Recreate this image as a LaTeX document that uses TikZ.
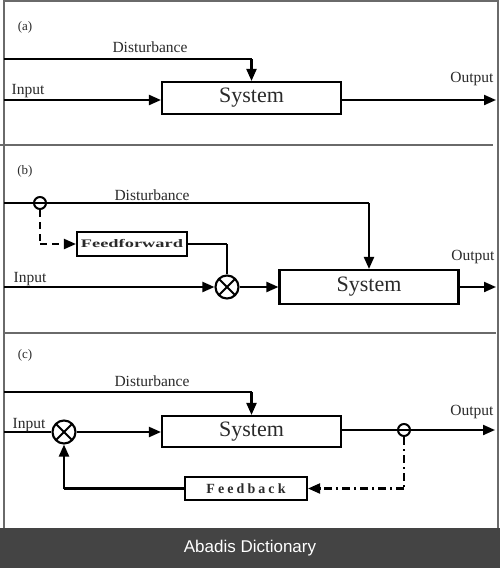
\documentclass[tikz,border=0pt]{standalone}
\usepackage{fontspec}
\setmainfont{Liberation Serif}
\newfontfamily\barfont{Liberation Sans}
\newfontfamily\fbfont[LetterSpace=22]{Liberation Serif}
\usepackage{graphicx}
\usetikzlibrary{arrows.meta,calc}
\definecolor{txt}{HTML}{2A2A2A}
\definecolor{framec}{HTML}{6A6A6A}
\definecolor{barc}{HTML}{444444}
\begin{document}
\begin{tikzpicture}[x=1pt,y=-1pt,
  wire/.style={line width=2.1pt,black},
  arr/.style={wire,-{Triangle[length=12pt,width=10pt]}},
  sysbox/.style={draw,line width=2.1pt,minimum width=179pt,minimum height=32pt,inner sep=0pt,font=\fontsize{22}{22}\selectfont,text=txt},
  smallbox/.style={draw,line width=2.1pt,inner sep=0pt,text=txt},
  lbl/.style={font=\fontsize{15.5}{15.5}\selectfont,text=txt,inner sep=0pt},
  tag/.style={font=\fontsize{13}{13}\selectfont,text=txt,inner sep=0pt},
  mixer/.style={draw,circle,line width=2.1pt,minimum size=23pt,inner sep=0pt,
    path picture={\draw[line width=1.8pt] ($(path picture bounding box.center)+(-8.2,-8.2)$) -- ++(16.4,16.4);
                  \draw[line width=1.8pt] ($(path picture bounding box.center)+(-8.2,8.2)$) -- ++(16.4,-16.4);}},
  tap/.style={draw,circle,line width=2pt,minimum size=12pt,inner sep=0pt}
]
\useasboundingbox (0,0) rectangle (500,568);
% frame
\draw[framec,line width=1.4pt] (4,1) -- (498,1);
\draw[framec,line width=1.4pt] (4,0) -- (4,528);
\draw[framec,line width=1.4pt] (498,0) -- (498,528);
\draw[framec,line width=1.4pt] (0,145) -- (493,145);
\draw[framec,line width=1.4pt] (4,333) -- (496,333);
\fill[barc] (0,528) rectangle (500,568);
\node[text=white,font=\barfont\fontsize{17}{17}\selectfont] (bar) at (250,548) {Abadis Dictionary};

% ---------- (a)
\node[tag] (ta) at (25,27) {(a)};
\node[sysbox] (sa) at (251.5,98) {System};
\coordinate (da0) at (4,59);
\coordinate (ia0) at (4,100);
\coordinate (oa1) at (496,100);
\draw[wire] (da0) -- (sa.north |- da0) coordinate (dac);
\draw[arr] (dac) -- (sa.north);
\draw[arr] (ia0) -- (sa.west |- ia0);
\draw[arr] (sa.east |- oa1) -- (oa1);
\node[lbl] (dla) at (150,47) {Disturbance};
\node[lbl] (ila) at (28,91) {Input};
\node[lbl] (ola) at (472,79) {Output};

% ---------- (b)
\node[tag] (tb) at (25,171) {(b)};
\node[sysbox,minimum height=34pt] (sb) at (369,287) {System};
\node[smallbox,minimum width=110pt,minimum height=24pt] (ff) at (132,244)
  {\scalebox{1.6}[1]{\bfseries\fontsize{11.5}{11.5}\selectfont Feedforward}};
\node[mixer] (mb) at (227,287) {};
\node[tap] (tpb) at (40,203) {};
\coordinate (db0) at (4,203);
\coordinate (ib0) at (4,287);
\coordinate (ob1) at (496,287);
\draw[wire] (db0) -- (sb.north |- db0) coordinate (dbc);
\draw[arr] (dbc) -- (sb.north);
\draw[wire,dash pattern=on 7pt off 5pt] (tpb.south) -- (tpb.south |- ff.west) coordinate (ffc);
\draw[arr,dash pattern=on 7pt off 5pt] (ffc) -- (ff.west);
\draw[wire] (ff.east) -- (mb.north |- ff.east) coordinate (ffm);
\draw[wire] (ffm) -- (mb.north);
\draw[arr] (ib0) -- (mb.west);
\draw[arr] (mb.east) -- (sb.west);
\draw[arr] (sb.east) -- (ob1);
\node[lbl] (dlb) at (152,195) {Disturbance};
\node[lbl] (ilb) at (30,279) {Input};
\node[lbl] (olb) at (473,257) {Output};

% ---------- (c)
\node[tag] (tc) at (25,355) {(c)};
\node[sysbox,minimum height=31pt] (sc) at (251.5,431.5) {System};
\node[mixer] (mc) at (64,432) {};
\node[tap] (tpc) at (404,430) {};
\node[smallbox,minimum width=122pt,minimum height=23pt] (fb) at (246,488.5)
  {\fbfont\bfseries\fontsize{14}{14}\selectfont Feedback};
\coordinate (dc0) at (4,392);
\coordinate (ic0) at (4,432);
\coordinate (oc1) at (495,430);
\draw[wire] (dc0) -- (sc.north |- dc0) coordinate (dcc);
\draw[arr] (dcc) -- (sc.north);
\draw[wire] (ic0) -- (mc.west);
\draw[arr] (mc.east) -- (sc.west |- mc.east);
\draw[arr] (sc.east |- tpc) -- (oc1);
\draw[wire,dash pattern=on 8pt off 4pt on 2pt off 4pt] (tpc.south) -- (tpc.south |- fb.east) coordinate (fbc);
\draw[arr,dash pattern=on 8pt off 4pt on 2pt off 4pt] (fbc) -- (fb.east);
\draw[wire] (fb.west) -- (mc.south |- fb.west) coordinate (fbm);
\draw[arr] (fbm) -- (mc.south);
\node[lbl] (dlc) at (152,381) {Disturbance};
\node[lbl] (ilc) at (29,425) {Input};
\node[lbl] (olc) at (472,412) {Output};
\end{tikzpicture}
\end{document}
